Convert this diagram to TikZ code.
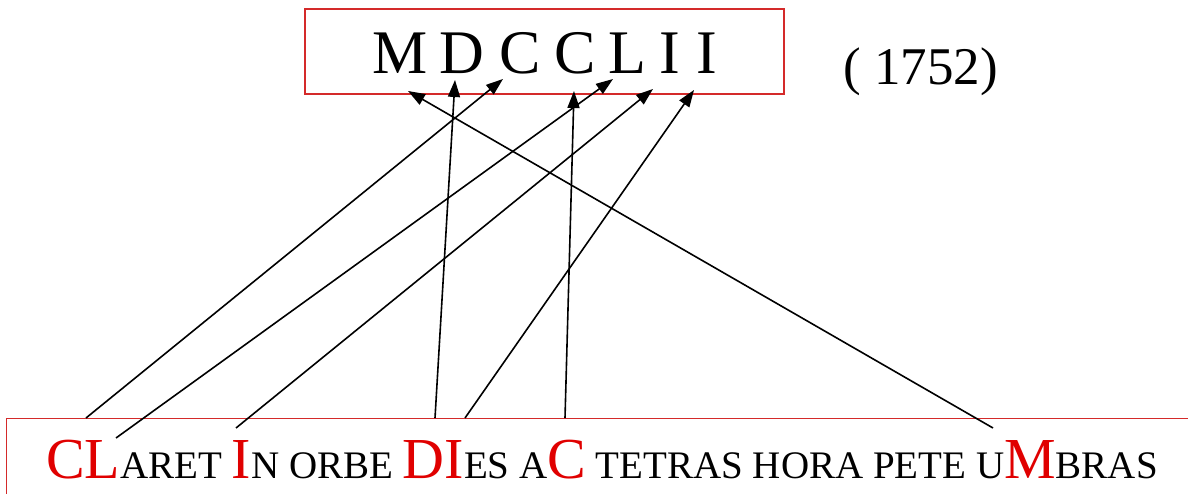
\documentclass[tikz,border=0pt]{standalone}
\usepackage{fontspec}
\setmainfont{Liberation Serif}
\usepackage{xcolor}
\definecolor{RomanRed}{HTML}{E00000}
\definecolor{BoxRed}{HTML}{D42A2A}
\usepackage{tikz}
\usetikzlibrary{positioning,arrows.meta,calc}

\newcommand{\redcap}[1]{{\color{RomanRed}\fontsize{58}{58}\selectfont #1}}

\begin{document}
\begin{tikzpicture}[
    x=1pt, y=-1pt,
    redbox/.style={
        draw=BoxRed,
        line width=1.3pt,
        inner sep=0pt
    },
    numeral/.style={
        anchor=base,
        inner sep=0pt,
        font=\fontsize{62}{62}\selectfont
    },
    verse/.style={
        anchor=base west,
        inner sep=0pt,
        font=\fontsize{39}{39}\selectfont
    },
    arr/.style={-{Triangle[length=17pt,width=12pt]},line width=1.6pt}
]
\useasboundingbox (0,0) rectangle (1188,494);

% ---------------------------------------------------------
% Riquadri
% ---------------------------------------------------------

\node[redbox, minimum width=479pt, minimum height=85pt]
(numbox) at (544.5,51.5) {};

\node[redbox, anchor=north west, minimum width=1200pt, minimum height=95pt]
(versebox) at (6,418) {};

% ---------------------------------------------------------
% Numerale romano e anno
% ---------------------------------------------------------

\node[numeral] (m)  at (400,74)   {M};
\node[numeral] (d)  at (462,74)   {D};
\node[numeral] (c1) at (520,74)   {C};
\node[numeral] (c2) at (575,74)   {C};
\node[numeral] (l)  at (627.5,74) {L};
\node[numeral] (i1) at (670,74)   {I};
\node[numeral] (i2) at (706.5,74) {I};

\node[anchor=base west, inner sep=0pt, font=\fontsize{53}{53}\selectfont]
(year) at (843,85) {( 1752)};

% ---------------------------------------------------------
% Verso cronogramma
% ---------------------------------------------------------

\node[verse] (line) at (46,478)
{\redcap{CL}ARET \redcap{I}N ORBE \redcap{DI}ES A\redcap{C} TETRAS HORA PETE U\redcap{M}BRAS};

% ---------------------------------------------------------
% Frecce lettera -> cifra
% ---------------------------------------------------------

\coordinate (fromC1) at (86,418);
\coordinate (fromL)  at (116,438);
\coordinate (fromI1) at (236,428);
\coordinate (fromD)  at (435,418);
\coordinate (fromI2) at (465,418);
\coordinate (fromC2) at (565,418);
\coordinate (fromM)  at (993,428);

\coordinate (toC1) at (503,79);
\coordinate (toL)  at (613,79);
\coordinate (toI1) at (653,89);
\coordinate (toD)  at (455,80);
\coordinate (toI2) at (694,90);
\coordinate (toC2) at (574,91);
\coordinate (toM)  at (408,91);

\draw[arr] (fromC1) -- (toC1);
\draw[arr] (fromL)  -- (toL);
\draw[arr] (fromI1) -- (toI1);
\draw[arr] (fromD)  -- (toD);
\draw[arr] (fromI2) -- (toI2);
\draw[arr] (fromC2) -- (toC2);
\draw[arr] (fromM)  -- (toM);

\end{tikzpicture}
\end{document}
